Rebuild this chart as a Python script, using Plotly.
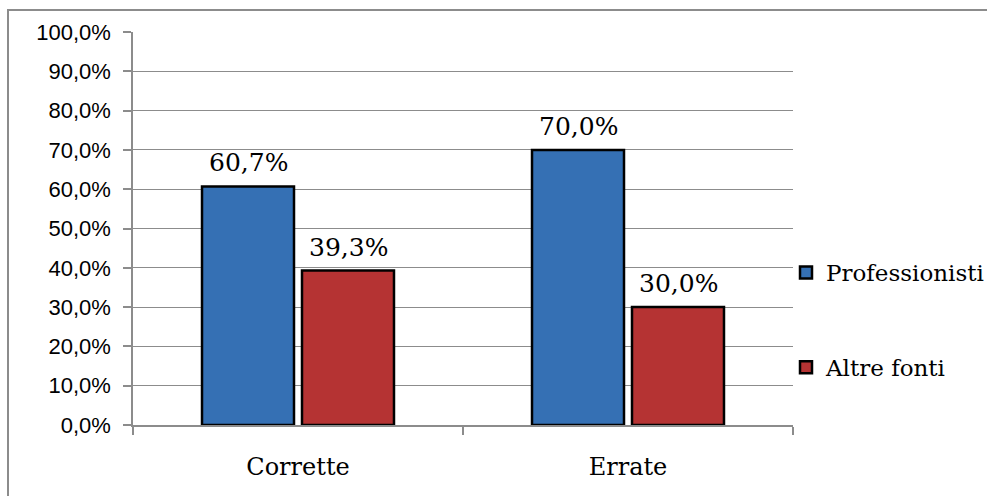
import plotly.graph_objects as go

categories = ["Corrette", "Errate"]
series_names = ["Professionisti", "Altre fonti"]
professionisti = [60.7, 70.0]
altre_fonti = [39.3, 30.0]
series_values = [professionisti, altre_fonti]
series_colors = ["#3570b4", "#b53333"]
y_ticks = [0, 10, 20, 30, 40, 50, 60, 70, 80, 90, 100]
y_tick_labels = [f"{v:.1f}".replace(".", ",") + "%" for v in y_ticks]

W, H = 987, 496
L, R, T, B = 133, 194, 32, 71
PW, PH = W - L - R, H - T - B

sans = "Liberation Sans"
serif = "DejaVu Serif"

fig = go.Figure()
for i, (name, vals, col) in enumerate(zip(series_names, series_values, series_colors)):
    fig.add_trace(go.Bar(
        x=categories, y=vals, name=name,
        marker=dict(color=col, line=dict(color="black", width=2.5)),
        legendgroup=f"g{i}",
    ))

# value labels above each bar
offsets = [-50, 50]
annotations = []
for vals, dx in zip(series_values, offsets):
    for cat, v in zip(categories, vals):
        annotations.append(dict(
            x=cat, y=v, xref="x", yref="y",
            text=f"{v:.1f}".replace(".", ",") + "%",
            showarrow=False, xshift=dx, yshift=7, yanchor="bottom",
            font=dict(family=serif, size=25, color="black"),
        ))

fig.update_layout(
    width=W, height=H,
    margin=dict(l=L, r=R, t=T, b=B, autoexpand=False),
    paper_bgcolor="white", plot_bgcolor="white",
    barmode="group", bargap=0.394, bargroupgap=0.08,
    showlegend=True,
    legend=dict(
        x=(786 - L) / PW, xanchor="left",
        y=1 - (272 - 21 - T) / PH, yanchor="top",
        font=dict(family=serif, size=23, color="black"),
        tracegroupgap=62, bgcolor="rgba(0,0,0,0)",
        itemwidth=30,
    ),
    annotations=annotations,
    shapes=[dict(
        type="rect", xref="paper", yref="paper",
        x0=-(L - 8) / PW, x1=(W + 5 - L) / PW,
        y0=-(B + 10) / PH, y1=1 + (T - 10) / PH,
        line=dict(color="#8c8c8c", width=2), layer="below",
    )],
)
fig.update_yaxes(
    range=[0, 100], tickvals=y_ticks, ticktext=y_tick_labels,
    showgrid=True, gridcolor="#8c8c8c", gridwidth=1.3,
    showline=True, linecolor="#8c8c8c", linewidth=1.5,
    ticks="outside", ticklen=8, tickcolor="#8c8c8c", tickwidth=1.5,
    tickfont=dict(family=sans, size=22, color="black"),
    ticklabelstandoff=8, zeroline=False,
)
fig.update_xaxes(
    showline=True, linecolor="#8c8c8c", linewidth=1.5,
    ticks="outside", ticklen=8, tickcolor="#8c8c8c", tickwidth=1.5,
    tickson="boundaries",
    tickfont=dict(family=serif, size=24, color="black"),
    ticklabelstandoff=19,
)

fig.write_html("out.html")
